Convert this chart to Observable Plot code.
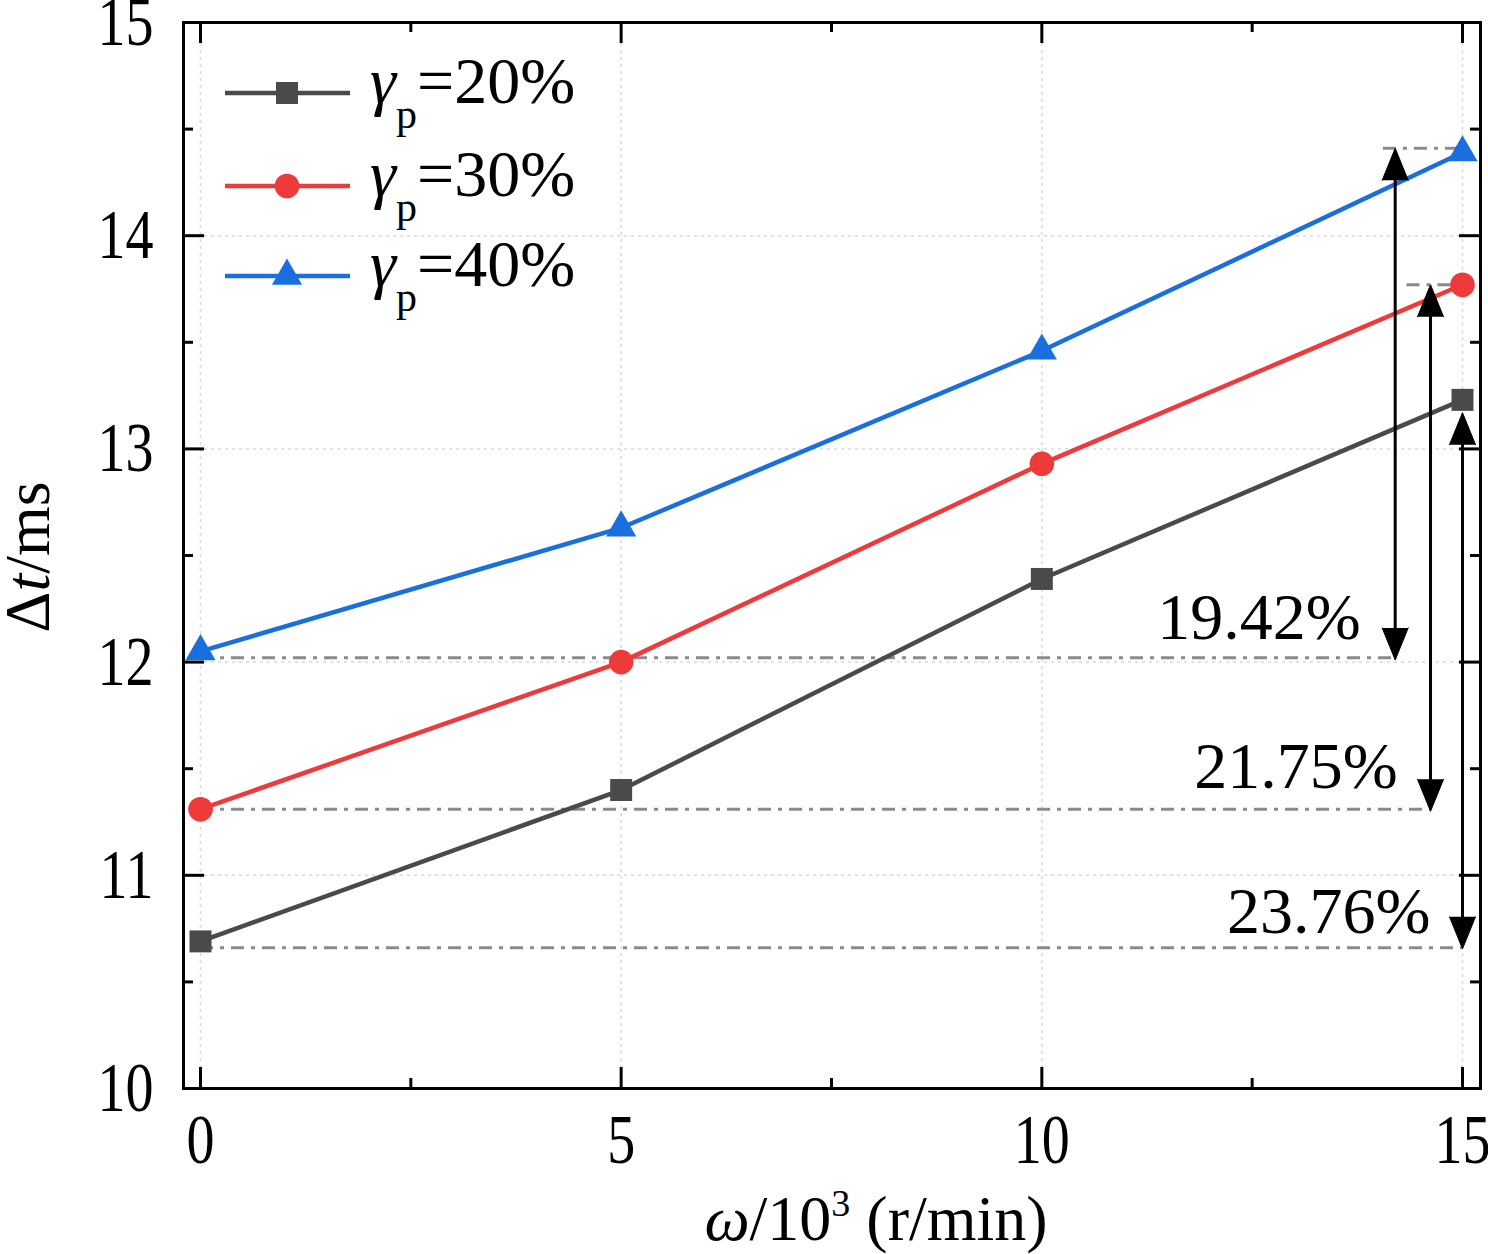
<!DOCTYPE html>
<html>
<head>
<meta charset="utf-8">
<script src="https://cdn.jsdelivr.net/npm/d3@7"></script>
<script src="https://cdn.jsdelivr.net/npm/@observablehq/plot@0.6"></script>
<style>
  html, body { margin: 0; padding: 0; background: #fff; }
  #chart { position: relative; width: 1488px; height: 1254px; }
</style>
</head>
<body>
<div id="chart"></div>
<script>
// ---------- data ----------
const speeds = [0, 5, 10, 15];                 // ω / 10^3 (r/min)
const seriesLabels = ["20%", "30%", "40%"];    // γp
const dt20 = [10.69, 11.40, 12.39, 13.23];     // Δt / ms
const dt30 = [11.31, 12.00, 12.93, 13.77];
const dt40 = [12.05, 12.63, 13.46, 14.39];
const seriesColors = ["#4a4a4a", "#ee3a3a", "#1a6fdf"];
const seriesSymbols = ["square", "circle", "triangle"];
const seriesR = [12.4, 12.3, 11.2];

const xTicks = [0, 5, 10, 15];
const xMinor = [2.5, 7.5, 12.5];
const yTicks = [10, 11, 12, 13, 14, 15];
const yMinor = [10.5, 11.5, 12.5, 13.5, 14.5];
const xGrid = [0, 5, 10, 15];
const yGrid = [11, 12, 13, 14];

// dash-dot reference lines
const refY  = [12.02, 11.31, 10.66, 14.41, 13.77];
const refX1 = [0, 0, 0, 14.06, 14.34];
const refX2 = [14.2, 14.62, 15, 15, 15];

// double-headed arrows
const arrowX      = [14.2, 14.62, 15.0];
const arrowTop    = [14.41, 13.77, 13.17];
const arrowBottom = [12.01, 11.30, 10.655];

// percentage annotations
const pctText = ["19.42%", "21.75%", "23.76%"];
const pctX = [13.79, 14.23, 14.62];
const pctY = [12.11, 11.41, 10.73];

// ---------- tables ----------
const allSeries = [dt20, dt30, dt40].map((vals, s) =>
  speeds.map((x, i) => ({x, y: vals[i], s})));
const refs = refY.map((y, i) => ({y, x1: refX1[i], x2: refX2[i]}));
const arrows = arrowX.map((x, i) => ({x, top: arrowTop[i], bottom: arrowBottom[i]}));
const pcts = pctText.map((t, i) => ({t, x: pctX[i], y: pctY[i]}));

// ---------- layout ----------
const W = 1488, H = 1254;
const mL = 183, mR = 8, mT = 22, mB = 166;
const innerW = W - mL - mR, innerH = H - mT - mB;
const FONT = "'Liberation Serif', 'Times New Roman', serif";
const FS = 66;       // annotation / legend / titles
const TFS = 70;      // tick labels (condensed)
const TSX = 0.8;     // horizontal condensation of tick labels

const marks = [
  Plot.ruleX(xGrid, {stroke: "#d9d9d9", strokeWidth: 1.5, strokeDasharray: "3,4"}),
  Plot.ruleY(yGrid, {stroke: "#d9d9d9", strokeWidth: 1.5, strokeDasharray: "3,4"}),
  Plot.ruleY(refs, {y: "y", x1: "x1", x2: "x2", stroke: "#8a8a8a", strokeWidth: 3, strokeDasharray: "13,7,4,7"}),
];
allSeries.forEach((data, s) => {
  marks.push(Plot.line(data, {x: "x", y: "y", stroke: seriesColors[s], strokeWidth: 4.5}));
});
allSeries.forEach((data, s) => {
  marks.push(Plot.dot(data, {x: "x", y: "y", symbol: () => seriesSymbols[s], fill: seriesColors[s], stroke: "none", r: seriesR[s]}));
});
marks.push(
  Plot.ruleX(arrows, {x: "x", y1: "top", y2: "bottom", stroke: "black", strokeWidth: 3, insetTop: 12, insetBottom: 12}),
  Plot.vector(arrows, {x: "x", y: "top", shape: "spike", anchor: "end", length: 32, r: 13, rotate: 0, fill: "black", stroke: "black", strokeWidth: 1}),
  Plot.vector(arrows, {x: "x", y: "bottom", shape: "spike", anchor: "end", length: 32, r: 13, rotate: 180, fill: "black", stroke: "black", strokeWidth: 1}),
  Plot.text(pcts, {x: "x", y: "y", text: "t", textAnchor: "end", lineAnchor: "bottom", fontSize: FS, fill: "black"}),
  Plot.frame({stroke: "black", strokeWidth: 3}),
  // inward ticks: left, right, bottom, top
  Plot.tickY(yTicks, {y: d => d, insetRight: innerW - 21, stroke: "black", strokeWidth: 3}),
  Plot.tickY(yMinor, {y: d => d, insetRight: innerW - 10, stroke: "black", strokeWidth: 3}),
  Plot.tickY(yTicks, {y: d => d, insetLeft: innerW - 21, stroke: "black", strokeWidth: 3}),
  Plot.tickY(yMinor, {y: d => d, insetLeft: innerW - 10, stroke: "black", strokeWidth: 3}),
  Plot.tickX(xTicks, {x: d => d, insetTop: innerH - 21, stroke: "black", strokeWidth: 3}),
  Plot.tickX(xMinor, {x: d => d, insetTop: innerH - 10, stroke: "black", strokeWidth: 3}),
  Plot.tickX(xTicks, {x: d => d, insetBottom: innerH - 21, stroke: "black", strokeWidth: 3}),
  Plot.tickX(xMinor, {x: d => d, insetBottom: innerH - 10, stroke: "black", strokeWidth: 3}),
  Plot.axisX(xTicks, {tickSize: 0, tickPadding: 25, fontSize: TFS, tickFormat: d3.format("d"), label: null, ariaLabel: "x-axis"}),
  Plot.axisY(yTicks, {tickSize: 0, tickPadding: 30, fontSize: TFS, tickFormat: d3.format("d"), label: null, ariaLabel: "y-axis"})
);

const chart = Plot.plot({
  width: W, height: H,
  marginLeft: mL, marginRight: mR, marginTop: mT, marginBottom: mB,
  x: {domain: [-0.202, 15.214]},
  y: {domain: [10, 15]},
  style: {fontFamily: FONT, fontSize: FS + "px", color: "black", background: "white", overflow: "visible"},
  marks
});
document.getElementById("chart").appendChild(chart);

const svg = d3.select(chart);

// condense tick labels horizontally (narrow serif look of the original)
svg.selectAll('g[aria-label="x-axis tick label"] text, g[aria-label="y-axis tick label"] text')
  .each(function () {
    const tr = this.getAttribute("transform");
    if (tr) this.setAttribute("transform", tr + ` scale(${TSX},1)`);
  });

// x-axis title: ω/10³ (r/min)
const xt = svg.append("text")
  .attr("x", 876).attr("y", 1240)
  .attr("text-anchor", "middle")
  .attr("font-family", FONT).attr("font-size", 64).attr("fill", "black");
xt.append("tspan").attr("font-style", "italic").text("ω");
xt.append("tspan").text("/10");
xt.append("tspan").attr("font-size", 38).attr("dy", -24).text("3");
xt.append("tspan").attr("dy", 24).text(" (r/min)");

// y-axis title: Δt/ms
const yt = svg.append("text")
  .attr("transform", "translate(49,557) rotate(-90)")
  .attr("text-anchor", "middle")
  .attr("font-family", FONT).attr("font-size", 64).attr("fill", "black");
yt.append("tspan").text("Δ");
yt.append("tspan").attr("font-style", "italic").text("t");
yt.append("tspan").text("/ms");

// legend
const legendRowY = [93, 186, 276];
const legend = svg.append("g");
seriesLabels.forEach((lab, s) => {
  const y = legendRowY[s];
  const g = legend.append("g");
  g.append("line").attr("x1", 225).attr("x2", 350).attr("y1", y).attr("y2", y)
    .attr("stroke", seriesColors[s]).attr("stroke-width", 4.5);
  const symType = {square: d3.symbolSquare, circle: d3.symbolCircle, triangle: d3.symbolTriangle}[seriesSymbols[s]];
  g.append("path").attr("transform", `translate(287,${y})`)
    .attr("d", d3.symbol(symType, Math.PI * seriesR[s] * seriesR[s])())
    .attr("fill", seriesColors[s]);
  const t = g.append("text").attr("x", 370).attr("y", y + 10)
    .attr("text-anchor", "start")
    .attr("font-family", FONT).attr("font-size", FS).attr("fill", "black");
  t.append("tspan").attr("font-style", "italic").text("γ");
  t.append("tspan").attr("font-size", 42).attr("dy", 25).text("p");
  t.append("tspan").attr("dy", -25).text("=" + lab);
});
</script>
</body>
</html>
